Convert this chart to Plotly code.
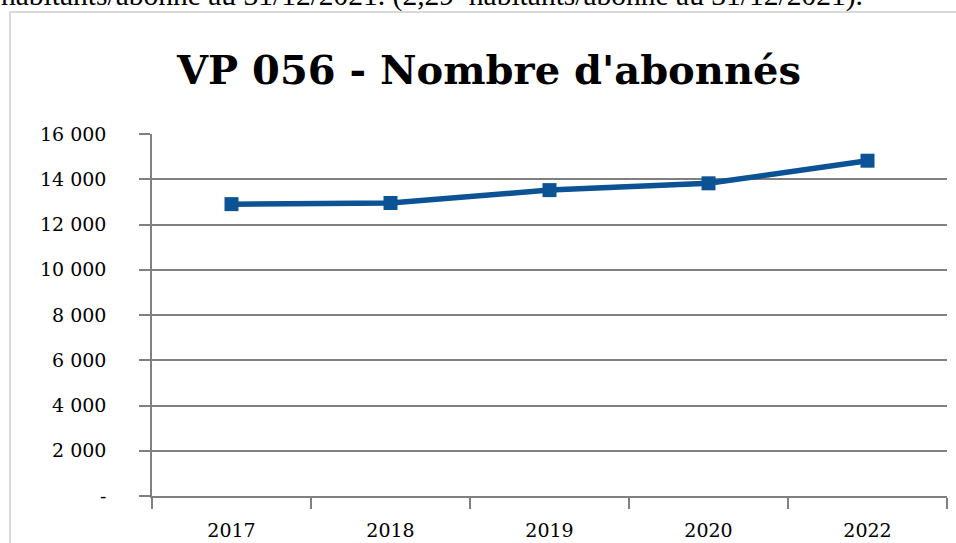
import plotly.graph_objects as go

# data
years = ['2017', '2018', '2019', '2020', '2022']
abonnes = [12900, 12950, 13520, 13820, 14820]
y_ticks = [0, 2000, 4000, 6000, 8000, 10000, 12000, 14000, 16000]
y_labels = ['-', '2 000', '4 000', '6 000', '8 000', '10 000', '12 000', '14 000', '16 000']

W, H = 956, 543
L, R, T, B = 152, 9, 134, 47
pw, ph = W - L - R, H - T - B


def px_x(x):
    # page pixel -> paper x
    return (x - L) / pw


def px_y(y):
    # page pixel -> paper y
    return (H - B - y) / ph


line_col = '#0B5394'
grey = '#808080'

fig = go.Figure()
fig.add_trace(go.Scatter(
    x=years, y=abonnes,
    mode='lines+markers',
    line=dict(color=line_col, width=5.5),
    marker=dict(symbol='square', size=14, color=line_col),
    showlegend=False))

fig.update_layout(
    width=W, height=H,
    margin=dict(l=L, r=R, t=T, b=B, autoexpand=False),
    paper_bgcolor='white', plot_bgcolor='white',
    font=dict(family='DejaVu Serif', color='black', size=19),
    title=dict(text="<b>VP 056 - Nombre d'abonnés</b>",
               x=489 / W, xanchor='center', xref='container',
               y=1 - 70 / H, yanchor='middle', yref='container',
               font=dict(family='DejaVu Serif', size=40, color='black')),
)

fig.update_xaxes(
    type='category', range=[-0.5, 4.5], automargin=False,
    tickson='boundaries', ticks='outside', ticklen=11, tickwidth=1.5, tickcolor=grey,
    showline=True, linecolor=grey, linewidth=1.5, showgrid=False,
    ticklabelstandoff=16)

fig.update_yaxes(
    range=[0, 16000], tickvals=y_ticks, ticktext=y_labels, automargin=False,
    ticks='outside', ticklen=11, tickwidth=1.5, tickcolor=grey,
    showline=True, linecolor=grey, linewidth=1.5,
    showgrid=True, gridcolor=grey, gridwidth=1.5, zeroline=False,
    ticklabelstandoff=29)

# outer chart frame
fig.add_shape(type='rect', xref='paper', yref='paper',
              x0=px_x(10), x1=px_x(1000), y0=px_y(600), y1=px_y(12),
              line=dict(color='#d9d9d9', width=2), fillcolor='rgba(0,0,0,0)', layer='below')

# text of the page above the chart, cut off at the top
fig.add_annotation(
    text='habitants/abonné au 31/12/2021. (2,29  habitants/abonné au 31/12/2021).',
    xref='paper', yref='paper', x=px_x(-1), y=px_y(14),
    xanchor='left', yanchor='bottom', showarrow=False,
    font=dict(family='Liberation Serif', size=29.5, color='black'))

# drop the default 8px body margin so the figure sits at the page corner
fig.write_html('out.html', config={'displayModeBar': False},
               post_script="document.body.style.margin = '0';")
